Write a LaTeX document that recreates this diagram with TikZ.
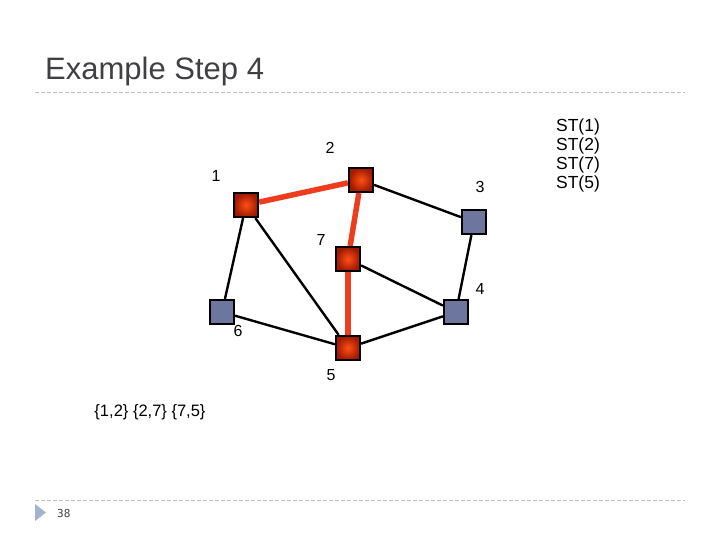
\documentclass[tikz,border=0pt]{standalone}
\usepackage{fontspec}
\setmainfont{Liberation Sans}
\setmonofont{DejaVu Sans Mono}
\definecolor{titlegray}{RGB}{64,64,68}
\definecolor{rulegray}{RGB}{185,188,192}
\definecolor{nodeblue}{RGB}{108,118,158}
\definecolor{redinner}{RGB}{255,80,20}
\definecolor{redouter}{RGB}{160,25,0}
\definecolor{rededge}{RGB}{238,60,30}
\definecolor{tri}{RGB}{160,180,205}
\tikzset{
  vred/.style={draw=black,line width=2.2pt,minimum size=24pt,inner sep=0pt,
    inner color=redinner,outer color=redouter},
  vblue/.style={draw=black,line width=2.2pt,minimum size=24pt,inner sep=0pt,fill=nodeblue},
  plain/.style={draw=black,line width=2.4pt},
  tree/.style={draw=rededge,line width=5.5pt},
  lbl/.style={font=\fontsize{16}{18}\selectfont,text=black,inner sep=0pt},
}
\begin{document}
\begin{tikzpicture}[x=1pt,y=-1pt]
\useasboundingbox (0,0) rectangle (720,540);
\fill[white] (0,0) rectangle (720,540);
% title
\node[anchor=base west,inner sep=0pt,text=titlegray,font=\fontsize{31}{36}\selectfont] (title) at (45,80) {Example Step 4};
\draw[rulegray,dash pattern=on 4pt off 2pt,line width=0.8pt] (35,92) -- (685,92);
\draw[rulegray,dash pattern=on 4pt off 2pt,line width=0.8pt] (35,500) -- (685,500);
\fill[tri] (35,504) -- (46,512.5) -- (35,521) -- cycle;
\node[anchor=west,inner sep=0pt,font=\ttfamily\fontsize{11}{13}\selectfont,text=titlegray] (pg) at (57,513) {38};
% vertices
\node[vred] (n1) at (246,205) {};
\node[vred] (n2) at (361,180) {};
\node[vblue] (n3) at (474,222) {};
\node[vred] (n7) at (348,259) {};
\node[vblue] (n6) at (222,312) {};
\node[vblue] (n4) at (456,312) {};
\node[vred] (n5) at (348,348) {};
% edges
\draw[plain] (n2) -- (n3);
\draw[plain] (n3) -- (n4);
\draw[plain] (n7) -- (n4);
\draw[plain] (n4) -- (n5);
\draw[plain] (n1) -- (n6);
\draw[plain] (n1) -- (n5);
\draw[plain] (n6) -- (n5);
\draw[tree] (n1) -- (n2);
\draw[tree] (n2) -- (n7);
\draw[tree] (n7) -- (n5);
% redraw vertices on top
\node[vred] at (n1) {};
\node[vred] at (n2) {};
\node[vblue] at (n3) {};
\node[vred] at (n7) {};
\node[vblue] at (n6) {};
\node[vblue] at (n4) {};
\node[vred] at (n5) {};
% labels
\node[lbl] (l2) at (330,148) {2};
\node[lbl] (l1) at (216,176) {1};
\node[lbl] (l3) at (480,187) {3};
\node[lbl] (l7) at (321,240) {7};
\node[lbl] (l4) at (480,289) {4};
\node[lbl] (l6) at (238,331) {6};
\node[lbl] (l5) at (331,375) {5};
\node[inner sep=0pt,font=\fontsize{16.5}{19}\selectfont] (sets) at (150,412) {\{1,2\} \{2,7\} \{7,5\}};
\node[inner sep=0pt,align=center,font=\fontsize{17.5}{19}\selectfont] (st) at (578,155) {ST(1)\\ST(2)\\ST(7)\\ST(5)};
\end{tikzpicture}
\end{document}
